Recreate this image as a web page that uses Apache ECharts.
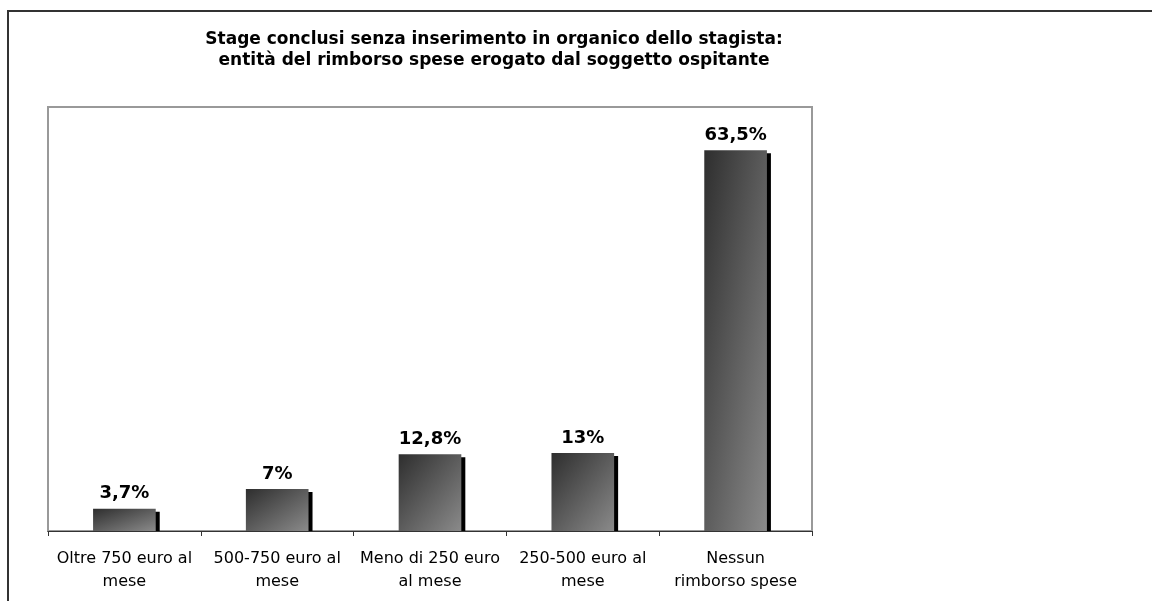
<!DOCTYPE html>
<html>
<head>
<meta charset="utf-8">
<script src="https://cdn.jsdelivr.net/npm/echarts@6/dist/echarts.min.js"></script>
<style>
  html, body { margin: 0; padding: 0; background: #fff; }
  #main { width: 1152px; height: 601px; }
</style>
</head>
<body>
<div id="main"></div>
<script>
// dati
var categorie = ['Oltre 750 euro al\nmese', '500-750 euro al\nmese', 'Meno di 250 euro\nal mese', '250-500 euro al\nmese', 'Nessun\nrimborso spese']
var valori = [3.7, 7, 12.8, 13, 63.5]
var etichette = ['3,7%', '7%', '12,8%', '13%', '63,5%']
var titolo = 'Stage conclusi senza inserimento in organico dello stagista:\nentità del rimborso spese erogato dal soggetto ospitante'

var yMax = 70.7
var plotH = 601 - 107 - 70
var larghezzaBarra = 0.41

var myChart = echarts.init(document.getElementById('main'))

// sfumatura diagonale come in Excel (isolinee lungo l'antidiagonale della barra)
function sfumatura (v) {
  var h = v * plotH / yMax
  var w = 152.8 * larghezzaBarra
  var d = h * h + w * w
  return new echarts.graphic.LinearGradient(0, 0, 2 * h * h / d, 2 * w * w / d, [
    { offset: 0, color: '#2e2e2e' },
    { offset: 1, color: '#8a8a8a' }
  ])
}

var option = {
  backgroundColor: '#fff',
  animation: false,
  textStyle: { fontFamily: '"DejaVu Sans", Arial, sans-serif' },
  graphic: [
    {
      // cornice esterna
      type: 'rect',
      shape: { x: 8, y: 11, width: 1200, height: 700 },
      style: { fill: null, stroke: '#333', lineWidth: 2 },
      silent: true
    },
    {
      type: 'text',
      x: 494,
      y: 50,
      style: {
        text: titolo,
        align: 'center',
        verticalAlign: 'middle',
        font: 'bold 17px "DejaVu Sans", Arial, sans-serif',
        lineHeight: 21,
        fill: '#000'
      }
    }
  ],
  grid: {
    left: 48,
    top: 107,
    right: 340,
    bottom: 70,
    show: true,
    borderColor: '#999',
    borderWidth: 2,
    backgroundColor: '#fff'
  },
  xAxis: {
    type: 'category',
    data: categorie,
    axisLine: { lineStyle: { color: '#333', width: 1 } },
    axisTick: { show: true, length: 5, lineStyle: { color: '#333' } },
    axisLabel: {
      color: '#000',
      fontSize: 16,
      lineHeight: 23,
      margin: 16,
      interval: 0
    }
  },
  yAxis: {
    type: 'value',
    min: 0,
    max: yMax,
    show: false,
    splitLine: { show: false }
  },
  series: [
    {
      // ombra nera delle barre
      type: 'custom',
      z: 2,
      data: valori.map(function (v, i) { return [i, v] }),
      encode: { x: 0, y: 1 },
      renderItem: function (params, api) {
        var top = api.coord([api.value(0), api.value(1)])
        var base = api.coord([api.value(0), 0])
        var w = api.size([1, 0])[0] * larghezzaBarra
        return {
          type: 'rect',
          shape: { x: top[0] - w / 2 + 4, y: top[1] + 3, width: w, height: base[1] - top[1] - 3 },
          style: { fill: '#000' }
        }
      }
    },
    {
      type: 'bar',
      z: 3,
      data: valori.map(function (v) {
        return { value: v, itemStyle: { color: sfumatura(v) } }
      }),
      barWidth: '41%',
      label: {
        show: true,
        position: 'top',
        distance: 6,
        color: '#000',
        fontWeight: 'bold',
        fontSize: 18,
        formatter: function (p) { return etichette[p.dataIndex] }
      }
    }
  ]
}

myChart.setOption(option)
</script>
</body>
</html>
